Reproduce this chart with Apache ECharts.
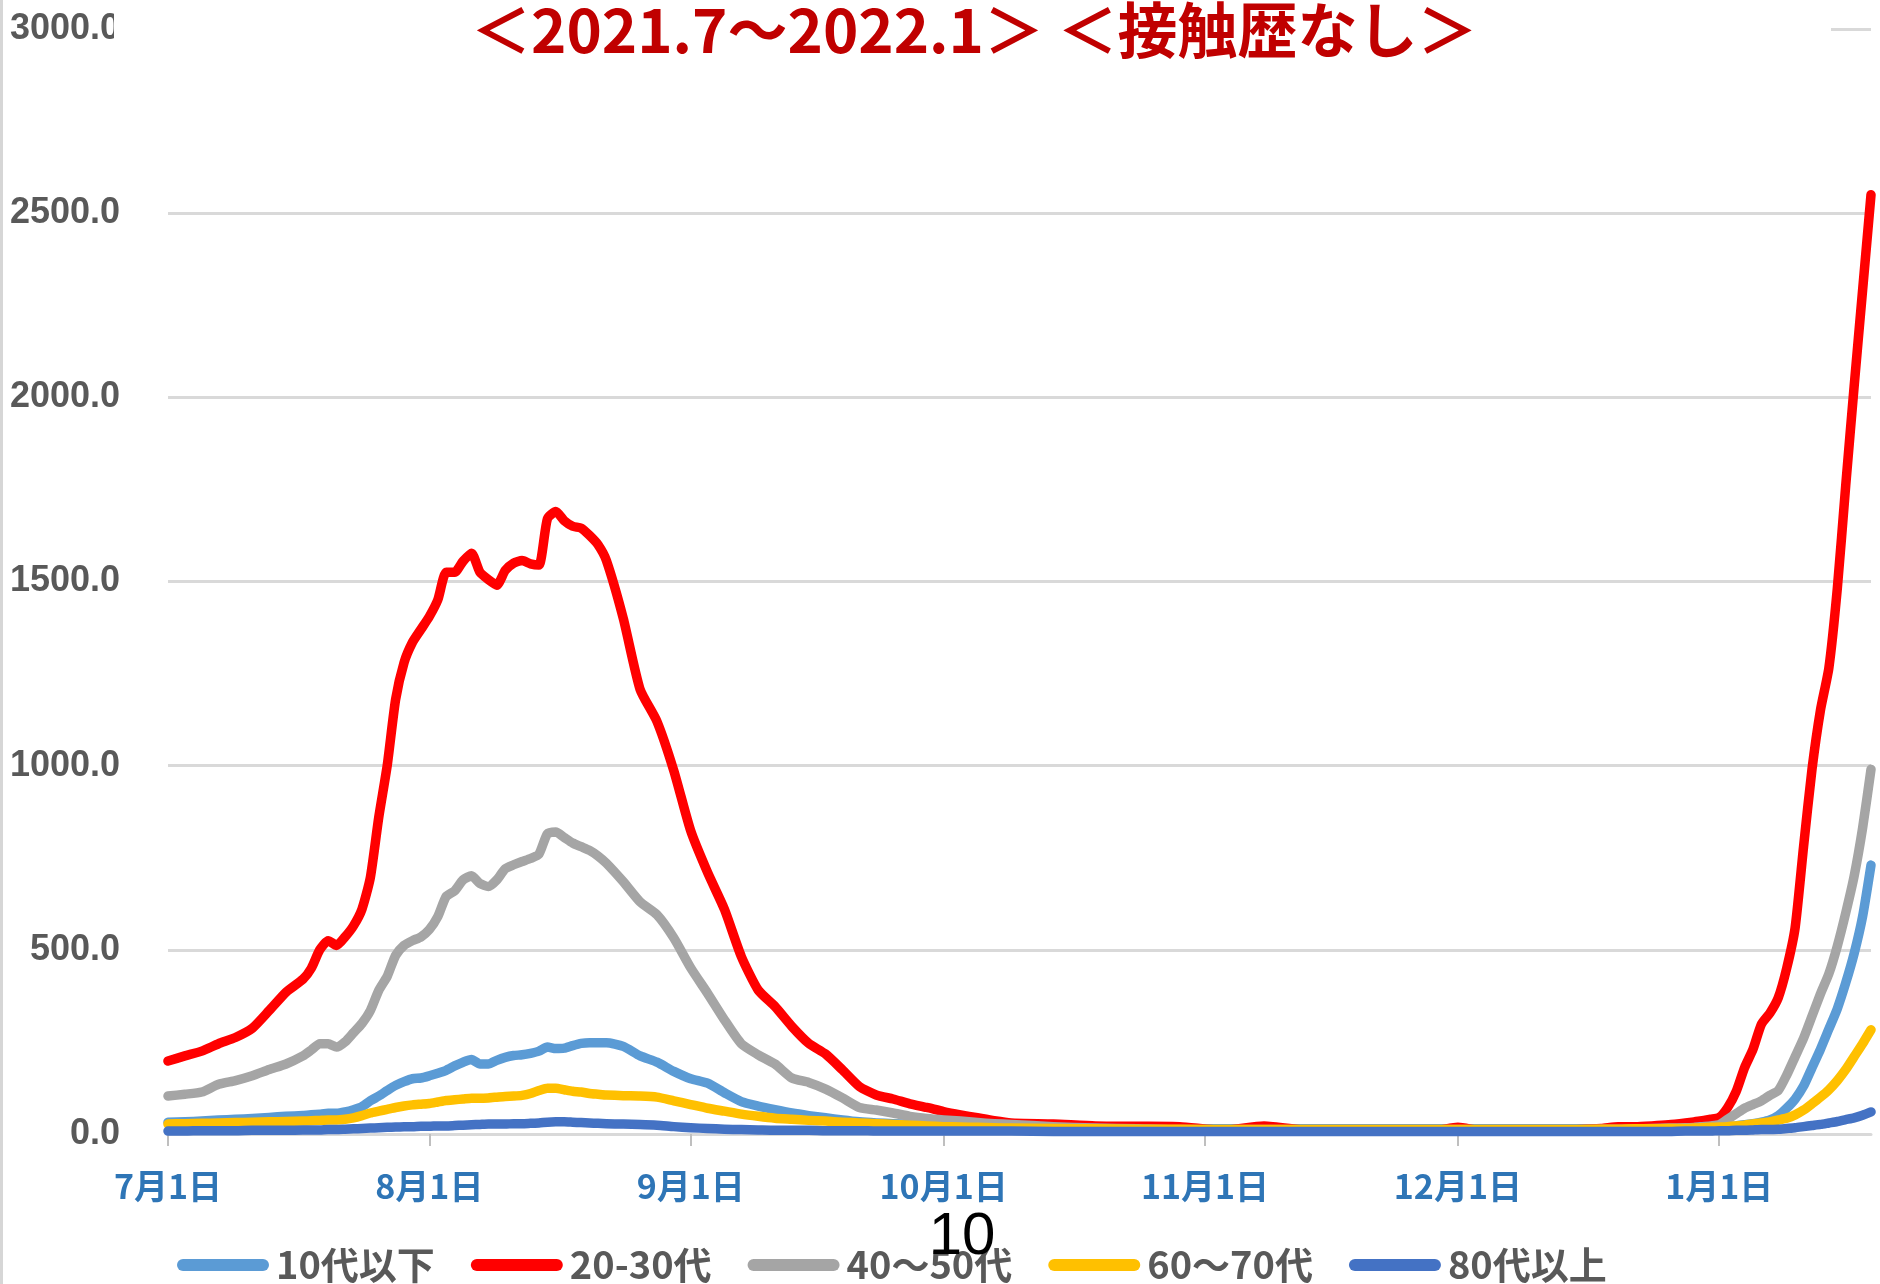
<!DOCTYPE html>
<html>
<head>
	<meta charset="utf-8">
	<title>接触歴なし</title>
	<script src="https://cdn.jsdelivr.net/npm/echarts@6/dist/echarts.min.js"></script>
	<style>
		html, body { margin: 0; padding: 0; background: #fff; }
	</style>
</head>
<body>
	<div id="main" style="width: 1880px; height: 1284px;"></div>
	<script type="text/javascript">
		// 日付（サンプル点）
		var dates = [
			'2021-07-01','2021-07-03','2021-07-05','2021-07-07','2021-07-09','2021-07-11','2021-07-13','2021-07-15',
			'2021-07-17','2021-07-18','2021-07-19','2021-07-20','2021-07-21','2021-07-22','2021-07-23','2021-07-24',
			'2021-07-25','2021-07-26','2021-07-27','2021-07-28','2021-07-29','2021-07-30','2021-07-31',
			'2021-08-01','2021-08-02','2021-08-03','2021-08-04','2021-08-05','2021-08-06','2021-08-07','2021-08-08',
			'2021-08-09','2021-08-10','2021-08-11','2021-08-12','2021-08-13','2021-08-14','2021-08-15','2021-08-16',
			'2021-08-17','2021-08-18','2021-08-19','2021-08-20','2021-08-21','2021-08-22',
			'2021-08-24','2021-08-26','2021-08-28','2021-08-30','2021-09-01','2021-09-03','2021-09-05','2021-09-07',
			'2021-09-09','2021-09-11','2021-09-13','2021-09-15','2021-09-17','2021-09-19','2021-09-21','2021-09-23',
			'2021-09-25','2021-09-27','2021-09-29','2021-10-01','2021-10-03','2021-10-05','2021-10-07','2021-10-09',
			'2021-10-14','2021-10-19','2021-10-24','2021-10-29','2021-11-03','2021-11-08','2021-11-13','2021-11-18',
			'2021-11-23','2021-11-28','2021-12-01','2021-12-04','2021-12-08','2021-12-13','2021-12-18',
			'2021-12-20','2021-12-22','2021-12-24','2021-12-26',
			'2021-12-28','2021-12-29','2021-12-30','2021-12-31',
			'2022-01-01','2022-01-02','2022-01-03','2022-01-04','2022-01-05','2022-01-06','2022-01-07','2022-01-08',
			'2022-01-09','2022-01-10','2022-01-11','2022-01-12','2022-01-13','2022-01-14','2022-01-15','2022-01-16',
			'2022-01-17','2022-01-18','2022-01-19'
		];

		var seriesNames = ['10代以下', '20-30代', '40～50代', '60～70代', '80代以上'];
		var seriesColors = ['#5B9BD5', '#FF0000', '#A5A5A5', '#FFC000', '#4472C4'];

		var age10 = [
			32,33,35,38,40,42,45,48,
			50,52,54,56,56,60,66,74,90,103,118,132,142,150,152,
			158,165,173,185,195,202,190,190,200,208,213,215,219,225,236,232,233,240,246,248,248,248,
			238,212,195,170,150,138,112,88,76,66,57,50,44,38,33,30,28,26,24,22,21,20,19,18,
			17,16,15,15,14,14,14,14,14,14,14,14,14,14,14,
			14,14,15,15,
			15,15,16,17,18,20,22,25,28,32,38,50,70,95,130,180,230,285,340,410,490,590,730
		];
		var age2030 = [
			198,212,225,245,262,287,335,385,
			420,450,500,525,512,535,565,610,696,860,1000,1180,1280,1335,1370,
			1405,1450,1525,1525,1555,1577,1525,1505,1490,1530,1550,1557,1548,1545,1670,1690,1665,1650,1645,1625,1600,1557,
			1400,1207,1120,986,823,710,610,482,391,346,292,246,217,174,129,106,95,82,72,61,52,44,36,30,
			27,22,21,20,10,22,10,8,8,8,18,8,8,10,15,
			20,20,22,25,
			30,33,36,40,45,72,115,180,230,298,328,370,450,560,780,990,1150,1265,1480,1760,2030,2290,2550
		];
		var age4050 = [
			103,108,114,135,145,158,175,190,
			212,228,245,245,236,250,275,300,335,390,428,485,512,525,535,
			555,590,645,660,690,701,680,672,690,720,731,740,748,760,815,820,805,790,780,770,755,735,
			685,630,595,532,451,382,310,245,215,190,152,140,122,98,72,65,57,48,42,38,35,31,28,26,
			20,16,14,12,12,12,12,12,12,12,12,12,12,12,13,
			13,14,15,16,
			17,18,20,22,25,40,55,70,80,90,105,118,160,210,260,320,380,435,510,600,700,830,990
		];
		var age6070 = [
			27,28,29,30,31,32,33,34,
			35,36,37,38,38,40,44,50,57,62,67,72,76,79,81,
			83,87,91,93,95,97,97,98,100,102,103,105,110,118,124,124,120,116,114,110,108,106,
			104,103,100,90,80,70,62,54,48,43,40,37,35,32,30,28,26,24,22,20,19,18,17,16,
			15,14,13,13,12,12,12,12,12,12,12,12,12,12,13,
			13,14,14,15,
			15,16,17,18,19,20,22,24,27,30,33,38,43,52,65,82,100,120,145,175,210,245,283
		];
		var age80 = [
			8,8,9,9,9,10,10,10,
			11,11,11,12,12,13,14,15,16,17,18,19,20,20,21,
			21,22,22,23,24,25,26,27,27,27,28,28,29,30,32,33,33,32,31,30,29,28,
			27,26,24,20,17,15,13,12,11,10,10,10,9,9,9,8,8,8,8,8,8,8,8,8,
			7,7,7,7,7,7,7,7,7,7,7,7,7,7,7,
			7,7,7,7,
			8,8,8,8,9,9,10,10,11,12,12,13,15,17,20,23,26,30,34,39,44,51,60
		];

		// 月初の目盛り
		var monthTicks = ['2021-07-01','2021-08-01','2021-09-01','2021-10-01','2021-11-01','2021-12-01','2022-01-01'];
		var yTicks = [0, 500, 1000, 1500, 2000, 2500, 3000];

		function toTime(s) {
			var p = s.split('-');
			return Date.UTC(+p[0], +p[1] - 1, +p[2]);
		}
		var tickTimes = monthTicks.map(toTime);

		var allValues = [age10, age2030, age4050, age6070, age80];
		var series = allValues.map(function (vals, k) {
			return {
				name: seriesNames[k],
				type: 'line',
				showSymbol: false,
				smooth: 0.2,
				color: seriesColors[k],
				lineStyle: { width: 9.5, color: seriesColors[k], cap: 'round', join: 'round' },
				data: dates.map(function (d, i) { return [toTime(d), vals[i]]; })
			};
		});

		var myChart = echarts.init(document.getElementById('main'));
		var option = {
			animation: false,
			backgroundColor: '#ffffff',
			title: {
				text: '＜2021.7～2022.1＞ ＜接触歴なし＞',
				left: 466,
				top: -5,
				z: 20,
				textStyle: {
					color: '#C00000',
					fontSize: 60,
					fontWeight: 'bold',
					fontFamily: 'Noto Sans CJK JP'
				}
			},
			legend: {
				left: 172,
				top: 1241,
				itemGap: 36,
				itemWidth: 92,
				itemHeight: 12,
				icon: 'path://M6,0 L86,0 A6,6 0 0 1 86,12 L6,12 A6,6 0 0 1 6,0 Z',
				textStyle: {
					color: '#595959',
					fontSize: 38,
					fontWeight: 'bold',
					fontFamily: 'Noto Sans CJK JP',
					padding: [0, 0, 0, 2]
				},
				data: seriesNames
			},
			grid: {
				left: 168,
				right: 9,
				top: 29,
				bottom: 150
			},
			xAxis: {
				type: 'value',
				min: toTime(dates[0]),
				max: toTime(dates[dates.length - 1]),
				axisLine: { show: true, lineStyle: { color: '#D9D9D9', width: 3 } },
				axisTick: {
					show: true,
					customValues: tickTimes,
					length: 12,
					lineStyle: { color: '#BFBFBF', width: 2 }
				},
				axisLabel: {
					customValues: tickTimes,
					margin: 35,
					color: '#2E75B6',
					fontSize: 34,
					fontWeight: 'bold',
					fontFamily: 'Noto Sans CJK JP',
					formatter: function (v) {
						var d = new Date(v);
						return (d.getUTCMonth() + 1) + '月' + d.getUTCDate() + '日';
					}
				},
				splitLine: { show: false }
			},
			yAxis: {
				type: 'value',
				min: yTicks[0],
				max: yTicks[yTicks.length - 1],
				interval: 500,
				axisLine: { show: false },
				axisTick: { show: false },
				axisLabel: {
					margin: 48,
					color: '#595959',
					fontSize: 36,
					fontWeight: 'bold',
					fontFamily: 'Liberation Sans',
					formatter: function (v) { return v.toFixed(1); }
				},
				splitLine: { lineStyle: { color: '#D9D9D9', width: 3 } }
			},
			graphic: [
				{
					type: 'rect',
					z: 10,
					shape: { x: 114, y: 0, width: 1717, height: 62 },
					style: { fill: '#ffffff' }
				},
				{
					type: 'rect',
					z: 10,
					shape: { x: 0, y: 0, width: 3, height: 1284 },
					style: { fill: '#D6D6D6' }
				},
				{
					type: 'text',
					z: 30,
					x: 962,
					y: 1237,
					style: {
						text: '10',
						fill: '#000000',
						fontSize: 60,
						fontFamily: 'Liberation Sans',
						align: 'center',
						verticalAlign: 'middle'
					}
				}
			],
			series: series
		};
		myChart.setOption(option);
	</script>
</body>
</html>
